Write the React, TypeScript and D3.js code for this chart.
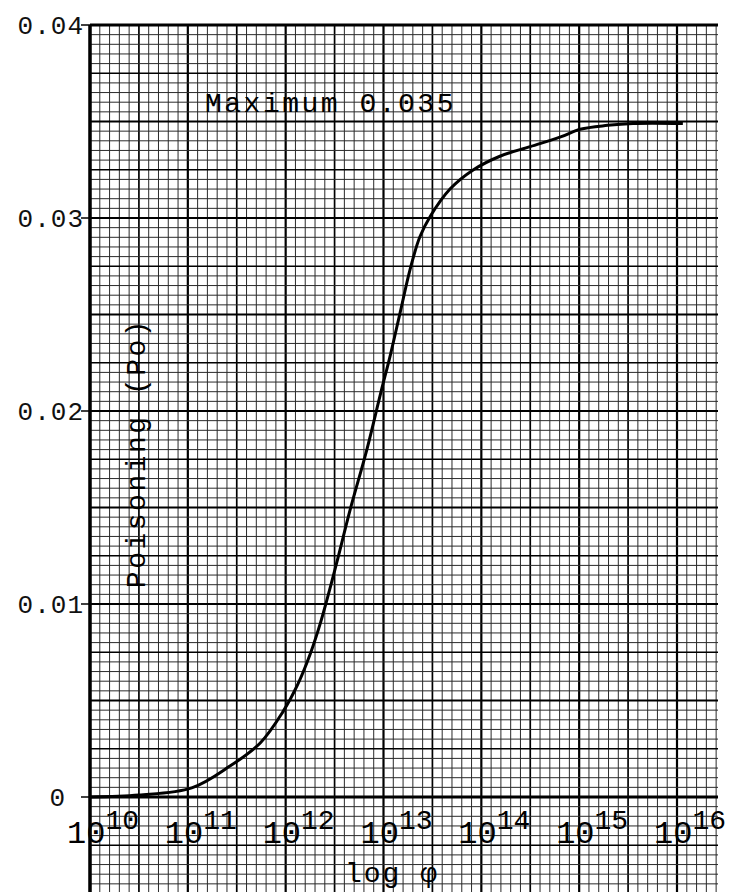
import React, { useEffect, useRef } from "react";
import * as d3 from "d3";

// exponent of the fluence (10^n) and the poisoning read at that point
const logFluence = [10.0, 10.5, 11.04, 11.43, 11.74, 11.97, 12.12, 12.25, 12.36, 12.52, 12.66, 12.83, 12.97, 13.07, 13.17, 13.27, 13.37, 13.48, 13.68, 13.92, 14.19, 14.5, 14.81, 15.01, 15.29, 15.55, 16.06];
const poisoning = [0, 0.0001, 0.00047, 0.0016, 0.0028, 0.0044, 0.0058, 0.0074, 0.0091, 0.0121, 0.0149, 0.018, 0.0209, 0.0229, 0.0251, 0.0273, 0.029, 0.0301, 0.0315, 0.0325, 0.0332, 0.0337, 0.0342, 0.0346, 0.0348, 0.0349, 0.0349];

const xDecades = [10, 11, 12, 13, 14, 15, 16];
const yTicks = [0, 0.01, 0.02, 0.03, 0.04];
const yTickLabels = ["0", "0.01", "0.02", "0.03", "0.04"];
const maximumLabel = "Maximum 0.035";
const yTitle = "Poisoning (Po)";
const xTitle = "log φ";

const W = 729;
const H = 892;
const FONT = "'Liberation Mono', 'DejaVu Sans Mono', monospace";

const App = () => {
  const ref = useRef(null);

  useEffect(() => {
    const svg = d3.select(ref.current);
    svg.selectAll("*").remove();

    const x = d3.scaleLog().domain([1e10, 1e16]).range([90, 677]);
    const y = d3.scaleLinear().domain([0, 0.04]).range([797, 25]);

    const gridLeft = 90;
    const gridRight = 718;
    const gridTop = y(0.04);
    const gridBottom = H;

    const grid = svg.append("g");

    // vertical graph paper lines, tenth of a decade apart
    d3.range(0, 65).forEach((i) => {
      const gx = x(Math.pow(10, 10 + i / 10));
      const w = i % 10 === 0 ? 2.2 : i % 5 === 0 ? 1.7 : 1;
      grid
        .append("line")
        .attr("x1", gx)
        .attr("x2", gx)
        .attr("y1", gridTop)
        .attr("y2", gridBottom)
        .attr("stroke", i % 5 === 0 ? "#000" : "#2a2a2a")
        .attr("stroke-width", w);
    });

    // horizontal lines, 0.0005 apart, down to -0.005
    d3.range(0, 91).forEach((j) => {
      const gy = y(0.04 - j * 0.0005);
      const w = j % 10 === 0 ? 2.2 : j % 5 === 0 ? 1.7 : 1;
      grid
        .append("line")
        .attr("x1", gridLeft)
        .attr("x2", gridRight)
        .attr("y1", gy)
        .attr("y2", gy)
        .attr("stroke", j % 5 === 0 ? "#000" : "#2a2a2a")
        .attr("stroke-width", w);
    });

    // axes
    svg
      .append("line")
      .attr("x1", gridLeft)
      .attr("x2", gridLeft)
      .attr("y1", gridTop)
      .attr("y2", gridBottom)
      .attr("stroke", "#000")
      .attr("stroke-width", 3.5);
    svg
      .append("line")
      .attr("x1", gridLeft)
      .attr("x2", gridRight)
      .attr("y1", y(0))
      .attr("y2", y(0))
      .attr("stroke", "#000")
      .attr("stroke-width", 3);
    svg
      .append("line")
      .attr("x1", gridLeft)
      .attr("x2", gridRight)
      .attr("y1", gridTop)
      .attr("y2", gridTop)
      .attr("stroke", "#000")
      .attr("stroke-width", 3);

    // y ticks and labels
    yTicks.forEach((t, i) => {
      svg
        .append("line")
        .attr("x1", 81)
        .attr("x2", gridLeft)
        .attr("y1", y(t))
        .attr("y2", y(t))
        .attr("stroke", "#000")
        .attr("stroke-width", 1.5);
      svg
        .append("text")
        .attr("x", t === 0 ? 66 : 84)
        .attr("y", y(t) + 9)
        .attr("text-anchor", "end")
        .attr("font-family", FONT)
        .attr("font-size", 26)
        .attr("letter-spacing", 1)
        .attr("fill", "#111")
        .text(yTickLabels[i]);
    });

    // decade labels 10^n
    xDecades.forEach((d) => {
      const cx = x(Math.pow(10, d)) - 3;
      const t = svg
        .append("text")
        .attr("x", cx - 20)
        .attr("y", 843)
        .attr("font-family", FONT)
        .attr("font-size", 32)
        .attr("fill", "#000");
      t.append("tspan").text("10");
      t.append("tspan")
        .attr("dy", -14)
        .attr("font-size", 28)
        .text(String(d));
    });

    // curve
    const pts = logFluence.map((e, i) => [Math.pow(10, e), poisoning[i]]);
    svg
      .append("path")
      .datum(pts)
      .attr("fill", "none")
      .attr("stroke", "#000")
      .attr("stroke-width", 3)
      .attr(
        "d",
        d3
          .line()
          .x((d) => x(d[0]))
          .y((d) => y(d[1]))
          .curve(d3.curveCatmullRom.alpha(0.5))
      );

    // annotation
    svg
      .append("text")
      .attr("x", 205)
      .attr("y", 112)
      .attr("font-family", FONT)
      .attr("font-size", 28)
      .attr("letter-spacing", 2.5)
      .attr("fill", "#000")
      .text(maximumLabel);

    svg
      .append("text")
      .attr("transform", `translate(145,${453}) rotate(-90)`)
      .attr("text-anchor", "middle")
      .attr("font-family", FONT)
      .attr("font-size", 28)
      .attr("letter-spacing", 2.5)
      .attr("fill", "#000")
      .text(yTitle);

    svg
      .append("text")
      .attr("x", 345)
      .attr("y", 882)
      .attr("font-family", FONT)
      .attr("font-size", 28)
      .attr("letter-spacing", 2)
      .attr("fill", "#000")
      .text(xTitle);
  }, []);

  return (
    <svg
      ref={ref}
      width={W}
      height={H}
      style={{ position: "absolute", left: 0, top: 0, background: "#fff" }}
    />
  );
};

export default App;
